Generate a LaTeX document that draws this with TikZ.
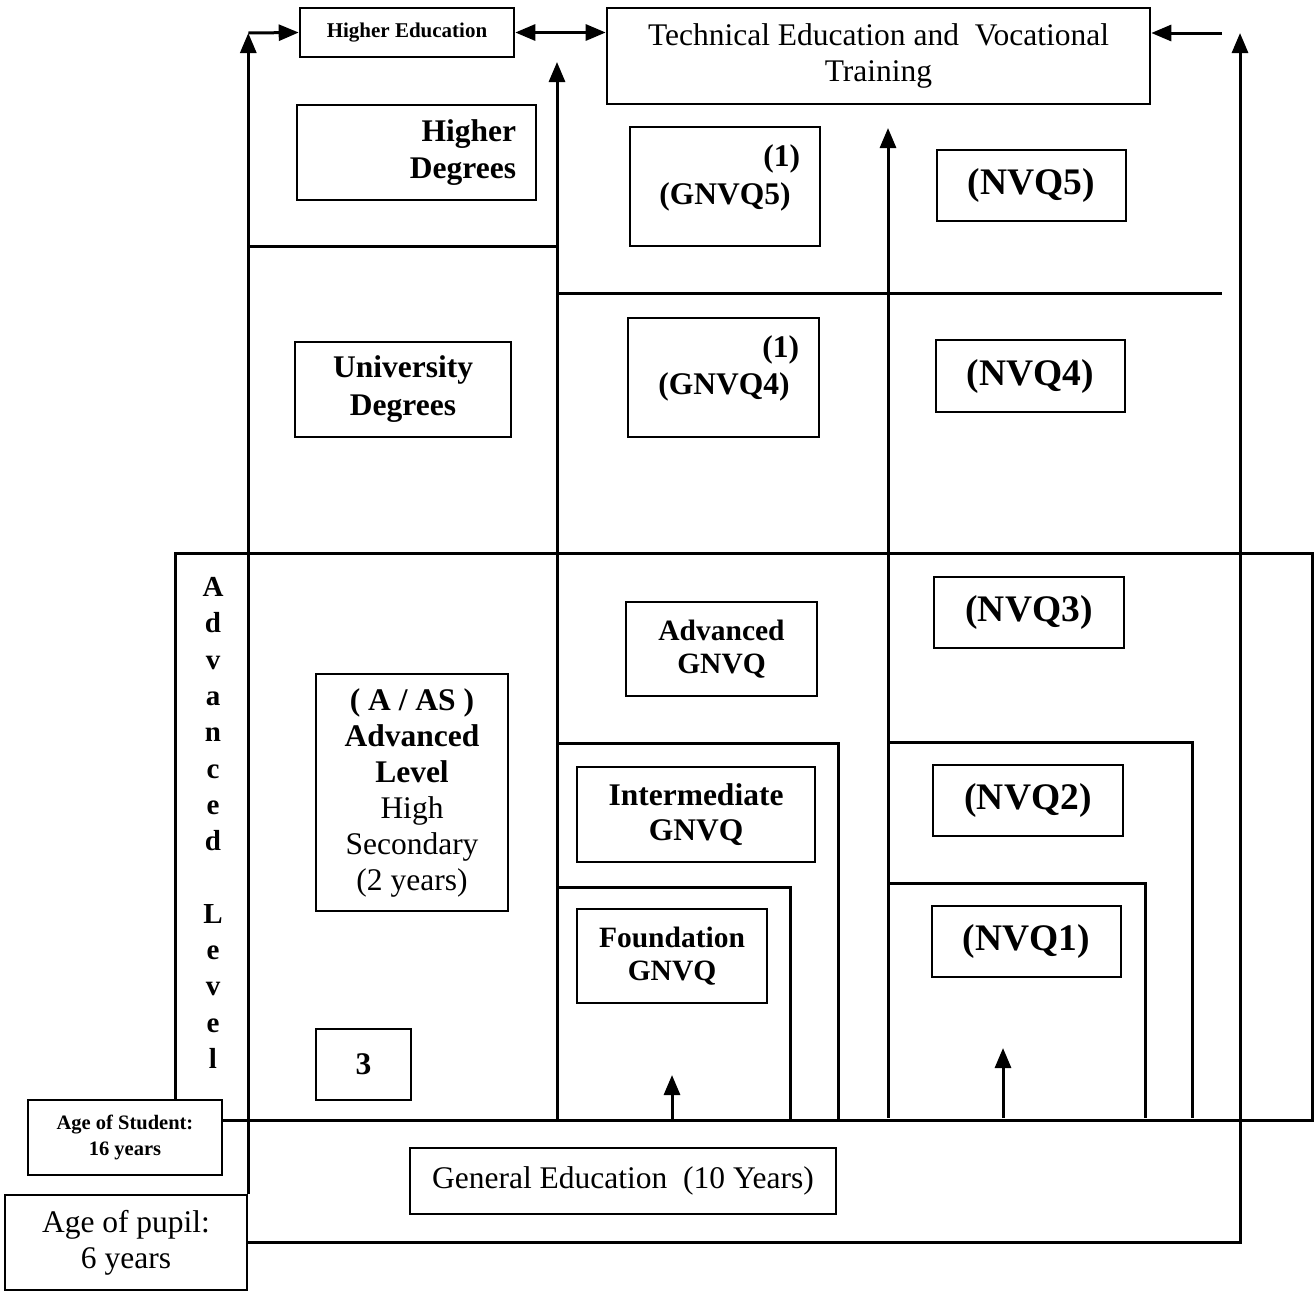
\documentclass[tikz,border=0pt]{standalone}
\usepackage{fontspec}
\setmainfont{Liberation Serif}
\usetikzlibrary{arrows.meta}
\newcommand{\fsz}[2]{\fontsize{#1}{#2}\selectfont}
\begin{document}
\begin{tikzpicture}[x=1pt,y=-1pt,
  bx/.style={draw, line width=2.6pt, fill=white, inner sep=0pt, align=center},
  ln/.style={line width=3pt},
  >={Triangle[length=20pt,width=16pt]},
  ar/.style={ln,->},
  dar/.style={ln,<->},
  bf/.style={font=\bfseries\fsz{31.5}{36}},
  rm/.style={font=\fsz{31.5}{36}},
  nvq/.style={font=\bfseries\fsz{37.5}{40}}
]
\useasboundingbox (0,0) rectangle (1314,1291);

% frame coordinates
\coordinate (midTop) at (557,62);
\coordinate (midBot) at (557,1120);
\coordinate (rTop) at (888,128);
\coordinate (rBot) at (888,1118);
\coordinate (farTop) at (1240,33);
\coordinate (inR) at (1222,33);

% big Advanced-level rectangle
\draw[ln] (175,553) rectangle (1312,1120);
% separators
\draw[ln] (248,246) -- (557,246);
\draw[ln] (557,293) -- (1222,293);
% nested boxes middle column
\draw[ln] (557,743) -- (838,743) -- (838,1120);
\draw[ln] (557,887) -- (790,887) -- (790,1120);
% nested boxes right column
\draw[ln] (888,742) -- (1192,742) -- (1192,1118);
\draw[ln] (888,883) -- (1145,883) -- (1145,1118);

% boxes
\node[bx, minimum width=214, minimum height=49, font=\bfseries\fsz{21}{24}] (he) at (407,32.5) {Higher Education};
\node[bx, minimum width=543, minimum height=96, rm] (tech) at (878.5,56) {Technical Education and~~Vocational\\Training};
\node[bx, minimum width=239, minimum height=95, text width=199, align=right, font=\bfseries\fsz{31.5}{37}] (hdeg) at (416.5,152.5) {Higher\\Degrees};
\node[bx, minimum width=190, minimum height=119] (g5) at (725,186.5) {};
\node[align=center, inner sep=0pt, font=\bfseries\fsz{31.5}{38}] (g5t) at (725,178) {\makebox[150pt][r]{(1)}\\(GNVQ5)};
\node[bx, minimum width=189, minimum height=71, nvq] (nvq5) at (1031.5,185.5) {(NVQ5)};
\node[bx, minimum width=216, minimum height=95, font=\bfseries\fsz{31.5}{38}] (udeg) at (403,389.5) {University\\Degrees};
\node[bx, minimum width=191, minimum height=119] (g4) at (723.5,377.5) {};
\node[align=center, inner sep=0pt, font=\bfseries\fsz{31.5}{37}] (g4t) at (724,368) {\makebox[150pt][r]{(1)}\\(GNVQ4)};
\node[bx, minimum width=189, minimum height=72, nvq] (nvq4) at (1030.5,376) {(NVQ4)};
\node[bx, minimum width=191, minimum height=94, font=\bfseries\fsz{29.5}{33}] (advg) at (721.5,649) {Advanced\\GNVQ};
\node[bx, minimum width=190, minimum height=71, nvq] (nvq3) at (1029,612.5) {(NVQ3)};
\node[bx, minimum width=192, minimum height=237, rm] (aas) at (412,792.5) {\textbf{( A / AS )}\\\textbf{Advanced}\\\textbf{Level}\\High\\Secondary\\(2 years)};
\node[bx, minimum width=238, minimum height=95, font=\bfseries\fsz{31.5}{35}] (intg) at (696,814.5) {Intermediate\\GNVQ};
\node[bx, minimum width=190, minimum height=71, nvq] (nvq2) at (1028,800.5) {(NVQ2)};
\node[bx, minimum width=190, minimum height=94, font=\bfseries\fsz{29.5}{33}] (fndg) at (672,956) {Foundation\\GNVQ};
\node[bx, minimum width=189, minimum height=71, nvq] (nvq1) at (1026.5,941.5) {(NVQ1)};
\node[bx, minimum width=95, minimum height=71, bf] (three) at (363.5,1064.5) {3};
\node[bx, minimum width=426, minimum height=66, rm] (gen) at (623,1181) {General Education~~(10 Years)};
\node[bx, minimum width=194, minimum height=75, font=\bfseries\fsz{20.5}{26}] (stud) at (125,1137.5) {Age of Student:\\16 years};
\node[bx, minimum width=242, minimum height=95, font=\fsz{31.5}{36}] (pupil) at (126,1242.5) {Age of pupil:\\6 years};
\node[align=center, inner sep=0pt, font=\bfseries\fsz{29}{36.3}] (advl) at (213,823) {A\\d\\v\\a\\n\\c\\e\\d\\~\\L\\e\\v\\e\\l};

% connectors
\coordinate (topL) at (pupil.north east |- 0,33);
\draw[ar] (pupil.north east) -- (topL);
\draw[ar] (topL) -- (he.west);
\draw[dar] (he.east) -- (he.east -| tech.west);
\draw[ar] (inR) -- (inR -| tech.east);
\draw[ar] (pupil.east) -| (farTop);
\draw[ar] (midBot) -- (midTop);
\draw[ar] (rBot) -- (rTop);
\draw[ar] (672,1120) -- (672,1075);
\draw[ar] (1003,1118) -- (1003,1048);
\end{tikzpicture}
\end{document}
